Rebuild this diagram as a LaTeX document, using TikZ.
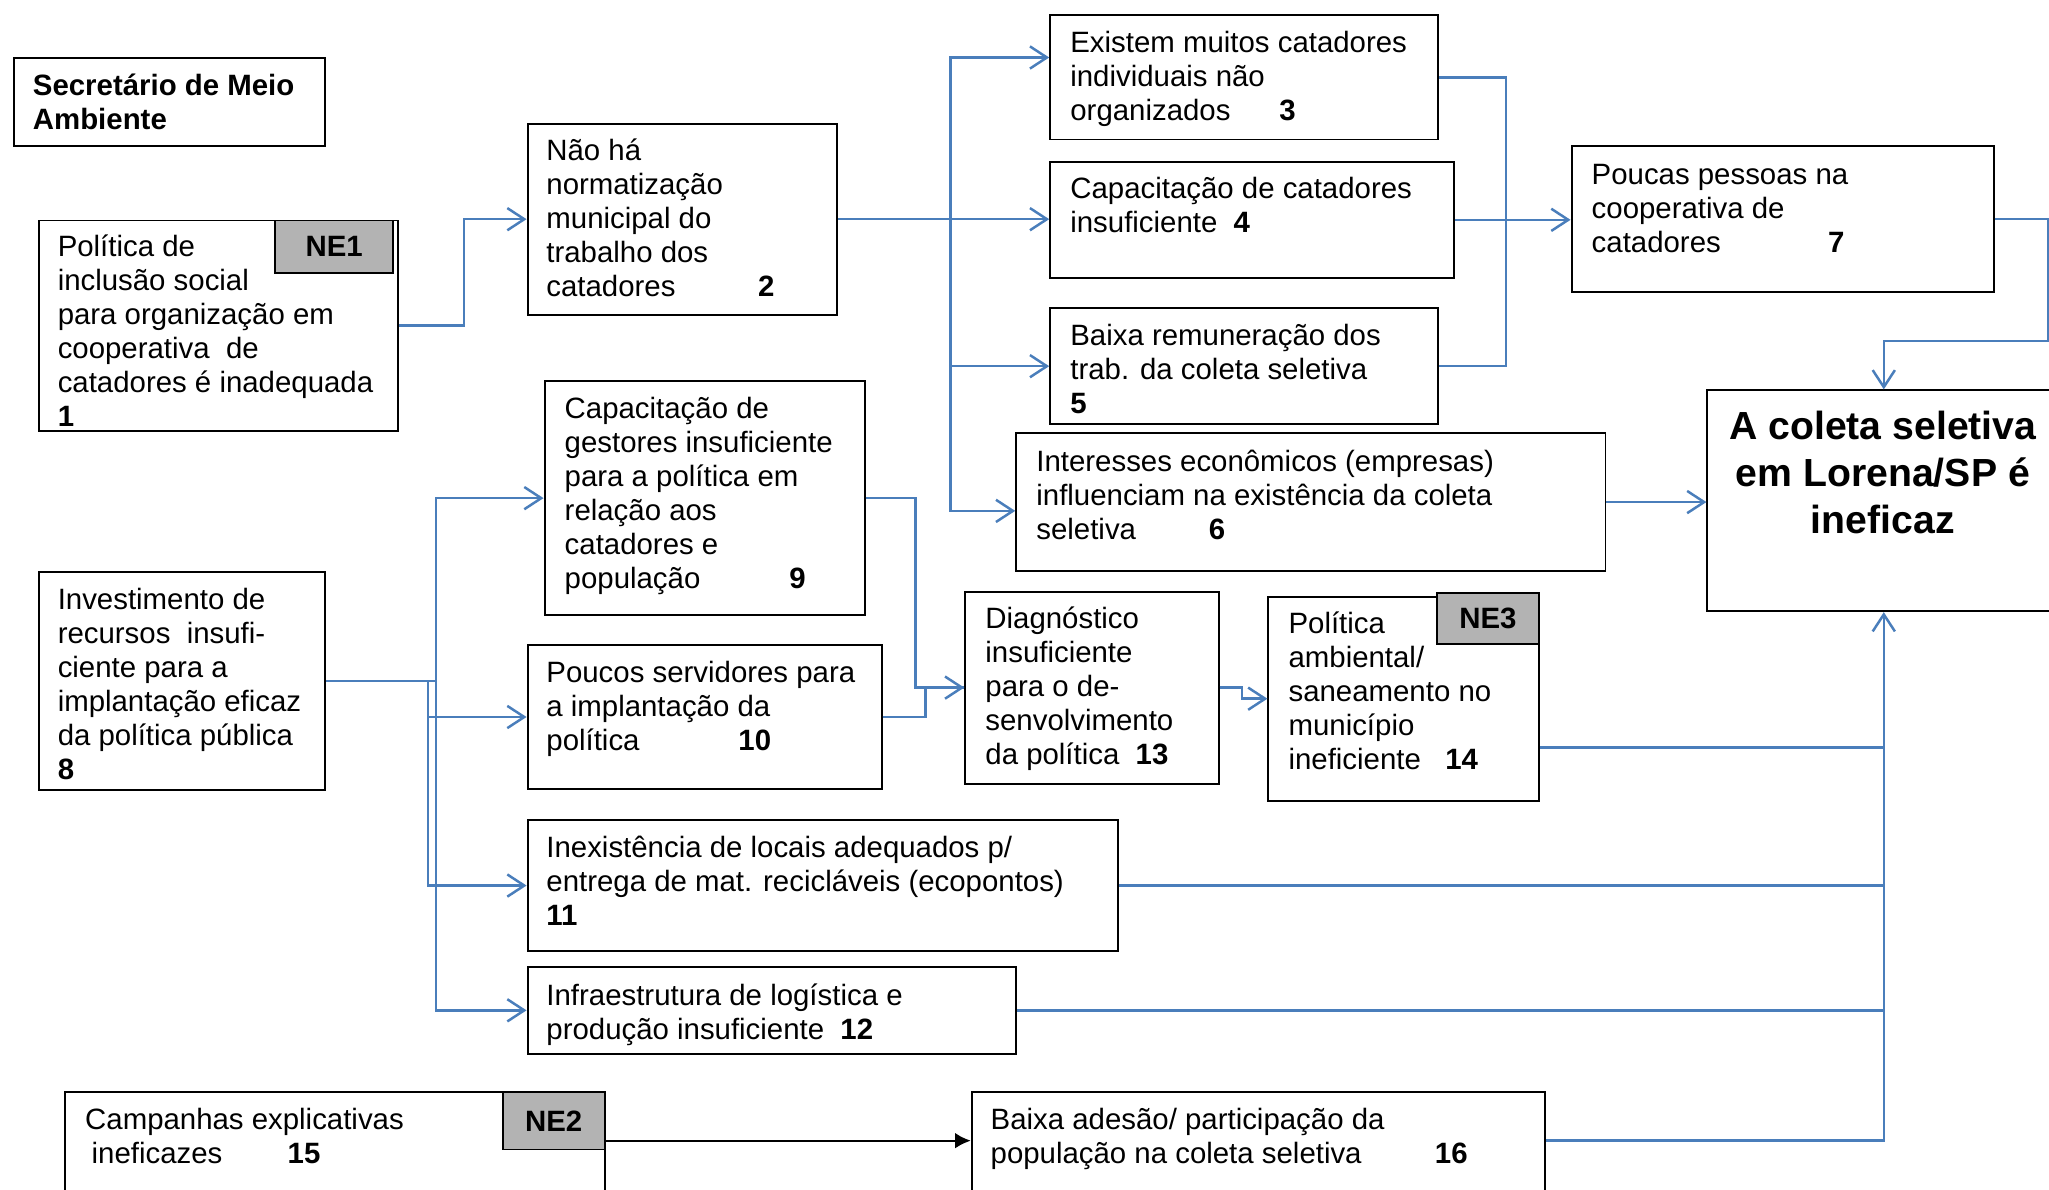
\documentclass[tikz,border=0pt]{standalone}
\usepackage{fontspec}
\setmainfont{Liberation Sans}
\usetikzlibrary{arrows.meta,calc}
\definecolor{lnblue}{HTML}{4A7EBB}
\definecolor{negray}{HTML}{B3B3B3}
\newcommand\fs{\rule{0pt}{21pt}}
\newcommand\fsb{\rule{0pt}{28pt}}
\newcommand\nmb[3]{\makebox[#1pt][l]{#2}\textbf{#3}}
\begin{document}
\begin{tikzpicture}[x=1pt,y=-1pt,
  bx/.style={draw=black,line width=1.5pt,fill=white,inner sep=0pt,anchor=north west},
  nebox/.style={draw=black,line width=1.5pt,fill=negray,inner sep=0pt,anchor=north west,font=\fontsize{22.5}{26}\selectfont\bfseries},
  txt/.style={inner sep=0pt,anchor=north west,align=left,font=\fontsize{22.5}{26}\selectfont},
  conn/.style={draw=lnblue,line width=1.9pt,-{Straight Barb[length=13pt,width=17pt]}},
  lnk/.style={draw=lnblue,line width=1.9pt},
  blk/.style={draw=black,line width=1.7pt,-{Latex[length=12pt,width=12pt]}}]
\useasboundingbox (0,0) rectangle (1568.2,910);

% boxes
\node[bx,minimum width=238pt,minimum height=67pt] (sec) at (10,44) {};
\node[bx,minimum width=275pt,minimum height=161pt] (b1) at (29,168) {};
\node[nebox,minimum width=90pt,minimum height=40pt] (ne1) at (210,168) {NE1};
\node[bx,minimum width=237pt,minimum height=146pt] (b2) at (403,94) {};
\node[bx,minimum width=297pt,minimum height=95pt] (b3) at (803,11) {};
\node[bx,minimum width=309pt,minimum height=89pt] (b4) at (803,123) {};
\node[bx,minimum width=297pt,minimum height=89pt] (b5) at (803,235) {};
\node[bx,minimum width=451pt,minimum height=105pt] (b6) at (777,331) {};
\node[bx,minimum width=323pt,minimum height=112pt] (b7) at (1202,111) {};
\node[bx,minimum width=270pt,minimum height=169pt] (main) at (1306,298) {};
\node[bx,minimum width=245pt,minimum height=179pt] (b9) at (416,291) {};
\node[bx,minimum width=219pt,minimum height=167pt] (b8) at (29,437) {};
\node[bx,minimum width=271pt,minimum height=110pt] (b10) at (403,493) {};
\node[bx,minimum width=194pt,minimum height=147pt] (b13) at (738,452) {};
\node[bx,minimum width=207pt,minimum height=156pt] (b14) at (970,456) {};
\node[nebox,minimum width=78pt,minimum height=39pt] (ne3) at (1099,453) {NE3};
\node[bx,minimum width=452pt,minimum height=100pt] (b11) at (403,627) {};
\node[bx,minimum width=374pt,minimum height=67pt] (b12) at (403,739) {};
\node[bx,minimum width=413pt,minimum height=100pt] (b15) at (49,835) {};
\node[nebox,minimum width=78pt,minimum height=44pt] (ne2) at (384,835) {NE2};
\node[bx,minimum width=439pt,minimum height=100pt] (b16) at (743,835) {};

% texts
\node[txt,font=\fontsize{22.5}{26}\selectfont\bfseries] (tsec) at (25,52) {\fs Secretário de Meio\\Ambiente};
\node[txt] (t1) at (44,175) {\fs Política de\\inclusão social\\para organização em\\cooperativa\ \ de\\catadores é inadequada\\\textbf{1}};
\node[txt] (t2) at (418,102) {\fs Não há\\normatização\\municipal do\\trabalho dos\\\nmb{162}{catadores}{2}};
\node[txt] (t3) at (819,19) {\fs Existem muitos catadores\\individuais não\\\nmb{160}{organizados}{3}};
\node[txt] (t4) at (819,131) {\fs Capacitação de catadores\\\nmb{125}{insuficiente}{4}};
\node[txt] (t5) at (819,243) {\fs Baixa remuneração dos\\trab. da coleta seletiva\\\textbf{5}};
\node[txt] (t6) at (793,340) {\fs Interesses econômicos (empresas)\\influenciam na existência da coleta\\\nmb{132}{seletiva}{6}};
\node[txt] (t7) at (1218,120) {\fs Poucas pessoas na\\cooperativa de\\\nmb{181}{catadores}{7}};
\node[inner sep=0pt,anchor=north,align=center,font=\fontsize{30}{36}\selectfont\bfseries] (tmain) at (1441,308) {\fsb A coleta seletiva\\em Lorena/SP é\\ineficaz};
\node[txt] (t9) at (432,299) {\fs Capacitação de\\gestores insuficiente\\para a política em\\relação aos\\catadores e\\\nmb{172}{população}{9}};
\node[txt] (t8) at (44,445) {\fs Investimento de\\recursos\ \ insufi-\\ciente para a\\implantação eficaz\\da política pública\\\textbf{8}};
\node[txt] (t10) at (418,501) {\fs Poucos servidores para\\a implantação da\\\nmb{147}{política}{10}};
\node[txt] (t13) at (754,460) {\fs Diagnóstico\\insuficiente\\para o de-\\senvolvimento\\\nmb{115}{da política}{13}};
\node[txt] (t14) at (986,464) {\fs Política\\ambiental/\\saneamento no\\município\\\nmb{120}{ineficiente}{14}};
\node[txt] (t11) at (418,635) {\fs Inexistência de locais adequados p/\\entrega de mat. recicláveis (ecopontos)\\\textbf{11}};
\node[txt] (t12) at (418,748) {\fs Infraestrutura de logística e\\\nmb{225}{produção insuficiente}{12}};
\node[txt] (t15) at (65,843) {\fs Campanhas explicativas\\\nmb{155}{\hspace{5pt}ineficazes}{15}};
\node[txt] (t16) at (758,843) {\fs Baixa adesão/ participação da\\\nmb{340}{população na coleta seletiva}{16}};

% connectors
\draw[conn] (b1.east) -- ++(49.5,0) |- (b2.west);
\coordinate (j2) at ($(b2.east)+(86,0)$);
\draw[conn] (b2.east) -- (b2.east -| b4.west);
\draw[conn] (j2) |- ($(b3.north west)+(0,33)$);
\draw[conn] (j2) |- (b5.west);
\draw[conn] (j2) |- ($(b6.north west)+(0,60)$);
\coordinate (j3) at ($(b3.east)+(51,0)$);
\draw[lnk] (b3.east) -- (j3) |- (b5.east);
\draw[conn] (b4.east) -- (b4.east -| b7.west);
\draw[conn] (b7.east) -- ++(41,0) |- ($(main.north)+(0,-37)$) -- (main.north);
\draw[conn] (b6.east) -- (b6.east -| main.west);

\coordinate (j8a) at ($(b8.east)+(78,0)$);
\coordinate (j8b) at ($(b8.east)+(84,0)$);
\draw[lnk] (b8.east) -- (j8b);
\draw[conn] (j8b) |- (b9.west);
\draw[conn] (j8b) |- (b12.west);
\draw[conn] (j8a) |- (b10.west);
\draw[conn] (j8a) |- (b11.west);

\draw[conn] (b9.east) -- ++(38,0) |- (b13.west);
\draw[lnk] (b10.east) -- ++(33,0) |- (b13.west);
\draw[conn] (b13.east) -- ++(17,0) |- (b14.west);

\coordinate (o14) at ($(b14.north east)+(0,116)$);
\draw[lnk] (o14) -- (o14 -| main.south);
\draw[lnk] (b11.east) -- (b11.east -| main.south);
\draw[lnk] (b12.east) -- (b12.east -| main.south);
\coordinate (o16) at ($(b16.north east)+(0,38)$);
\draw[conn] (o16) -| (main.south);

\coordinate (o15) at ($(b15.north east)+(0,38)$);
\draw[blk] (o15) -- (o15 -| b16.west);
\end{tikzpicture}
\end{document}
